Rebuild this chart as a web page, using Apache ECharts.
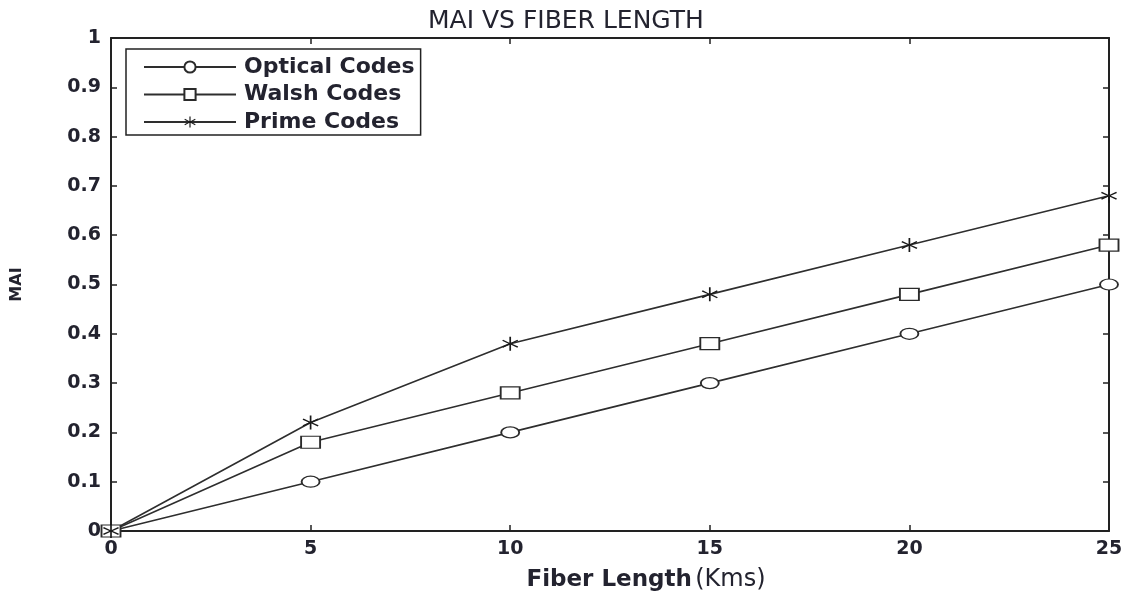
<!DOCTYPE html>
<html>
<head>
<meta charset="utf-8">
<script src="https://cdn.jsdelivr.net/npm/echarts@6/dist/echarts.min.js"></script>
<style>html,body{margin:0;padding:0;background:#fff;}#c{width:1130px;height:597px;}</style>
</head>
<body>
<div id="c"></div>
<script>
const fiberLength = [0, 5, 10, 15, 20, 25];
const opticalCodes = [0, 0.10, 0.20, 0.30, 0.40, 0.50];
const walshCodes = [0, 0.18, 0.28, 0.38, 0.48, 0.58];
const primeCodes = [0, 0.22, 0.38, 0.48, 0.58, 0.68];
const seriesNames = ['Optical Codes', 'Walsh Codes', 'Prime Codes'];

const star = 'path://M9,0 L11,0 L11,8.6 L18.4,4.3 L19.4,6 L12,10 L19.4,14 L18.4,15.7 L11,11.4 L11,20 L9,20 L9,11.4 L1.6,15.7 L0.6,14 L8,10 L0.6,6 L1.6,4.3 L9,8.6 Z';
const textColor = '#23232f';
const font = 'DejaVu Sans';

function pts(ys){ return fiberLength.map((x,i)=>[x, ys[i]]); }

const axisCommon = {
  axisLine:{onZero:false, lineStyle:{color:'#222', width:2}},
  axisTick:{inside:true, length:6, lineStyle:{color:'#222', width:1.5}},
  splitLine:{show:false}
};
const lineStyle = {color:'#2e2e2e', width:1.6};
const chart = echarts.init(document.getElementById('c'));
chart.setOption({
  animation:false,
  backgroundColor:'#fff',
  title:{text:'MAI VS FIBER LENGTH', left:423, top:4,
    textStyle:{fontFamily:font, fontSize:25, fontWeight:'normal', color:textColor}},
  grid:{left:111, right:21, top:38, bottom:65},
  legend:{
    orient:'vertical', left:126, top:49,
    padding:[7,6,2,17], itemGap:5.5, itemWidth:92, itemHeight:14,
    borderColor:'#222', borderWidth:1.5, backgroundColor:'#fff',
    textStyle:{fontFamily:font, fontSize:22, fontWeight:'bold', color:textColor, padding:[0,0,0,3]},
    data:seriesNames
  },
  xAxis:[Object.assign({
    type:'value', min:0, max:25, interval:5,
    axisLabel:{fontFamily:font, fontSize:19, fontWeight:'bold', color:textColor, margin:9},
    name:'{a|Fiber Length} {b|(Kms)}', nameLocation:'middle', nameGap:37,
    nameTextStyle:{padding:[0,0,0,72], rich:{
      a:{fontFamily:font, fontSize:23, fontWeight:'bold', color:textColor},
      b:{fontFamily:font, fontSize:24, color:textColor}}}
  }, axisCommon),
  Object.assign({
    type:'value', min:0, max:25, interval:5, position:'top',
    axisLabel:{show:false}
  }, axisCommon)],
  yAxis:[Object.assign({
    type:'value', min:0, max:1, interval:0.1,
    axisLabel:{fontFamily:font, fontSize:19, fontWeight:'bold', color:textColor, margin:10,
      formatter:v=>String(+v.toFixed(1))},
    name:'MAI', nameLocation:'middle', nameGap:86, nameRotate:90,
    nameTextStyle:{fontFamily:font, fontSize:16, fontWeight:'bold', color:textColor}
  }, axisCommon),
  Object.assign({
    type:'value', min:0, max:1, interval:0.1, position:'right',
    axisLabel:{show:false}
  }, axisCommon)],
  series:[
    {name:seriesNames[0], type:'line', data:pts(opticalCodes), symbol:'circle', symbolSize:[18,11],
     showAllSymbol:true, lineStyle:lineStyle,
     itemStyle:{color:'#fff', borderColor:'#2b2b2b', borderWidth:1.5}},
    {name:seriesNames[1], type:'line', data:pts(walshCodes), symbol:'rect', symbolSize:[19,12],
     showAllSymbol:true, lineStyle:lineStyle,
     itemStyle:{color:'#fff', borderColor:'#2b2b2b', borderWidth:1.5}},
    {name:seriesNames[2], type:'line', data:pts(primeCodes), symbol:star, symbolSize:[16,14],
     showAllSymbol:true, lineStyle:lineStyle,
     itemStyle:{color:'#1a1a1a', borderColor:'#1a1a1a', borderWidth:0}}
  ]
});
</script>
</body>
</html>
